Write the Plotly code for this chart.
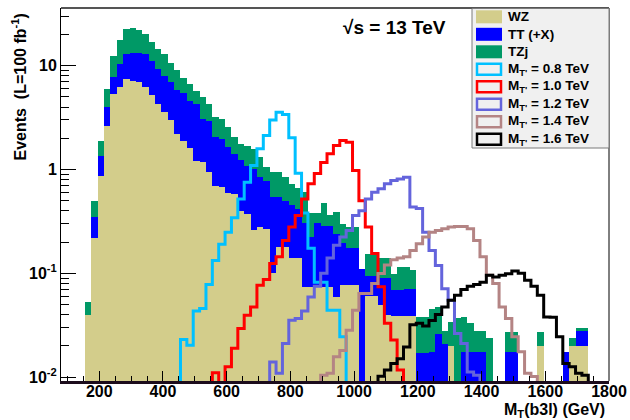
import plotly.graph_objects as go

# ---------------- data ----------------
bin_centers = [165, 185, 205, 225, 245, 265, 285, 305, 325, 345,
               365, 385, 405, 425, 445, 465, 485, 505, 525, 545,
               565, 585, 605, 625, 645, 665, 685, 705, 725, 745,
               765, 785, 805, 825, 845, 865, 885, 905, 925, 945,
               965, 985, 1005, 1025, 1045, 1065, 1085, 1105, 1125, 1145,
               1165, 1185, 1205, 1225, 1245, 1265, 1285, 1305, 1325, 1345,
               1365, 1385, 1405, 1425, 1445, 1465, 1485, 1505, 1525, 1545,
               1565, 1585, 1605, 1625, 1645, 1665, 1685, 1705, 1725, 1745]
bin_width = 20

wz = [0.040, 0.22, 0.86, 2.6, 5.3, 6.2, 7.4, 7.2, 6.9, 6.3,
      5.2, 4.3, 3.6, 3.0, 2.2, 1.9, 1.6, 1.22, 1.18, 0.94,
      0.70, 0.68, 0.59, 0.58, 0.40, 0.37, 0.26, 0.28, 0.27, 0.10,
      0.18, 0.18, 0.14, 0.14, 0.074, 0.074, 0.074, 0.074, 0.074, 0.059,
      0.077, 0.077, 0.077, 0, 0.06, 0.06, 0.05, 0.04, 0.039, 0.039,
      0.039, 0.039, 0, 0, 0, 0, 0, 0.02, 0, 0,
      0, 0, 0, 0, 0, 0, 0, 0, 0, 0,
      0, 0.02, 0, 0, 0, 0, 0.02, 0.02, 0.02, 0]

tt = [0, 0.13, 0.50, 1.37, 2.5, 4.2, 5.5, 6.2, 6.5, 6.6,
      6.0, 5.0, 4.4, 3.9, 3.6, 3.5, 3.0, 3.08, 1.89, 2.0,
      1.35, 1.29, 1.05, 0.84, 0.84, 0.72, 0.74, 0.56, 0.51, 0.44,
      0.36, 0.32, 0.31, 0.28, 0.23, 0.15, 0.23, 0.21, 0.21, 0.18,
      0.12, 0.10, 0.10, 0.11, 0.035, 0.035, 0.04, 0.05, 0.03, 0.03,
      0.032, 0.031, 0.017, 0.017, 0.0175, 0.026, 0.021, 0, 0, 0.0175,
      0.0175, 0.0175, 0.0175, 0, 0, 0, 0.0175, 0.0175, 0, 0,
      0, 0, 0, 0, 0, 0.0175, 0, 0.008, 0.008, 0]

tzj = [0.013, 0.15, 0.54, 2.0, 4.7, 7.4, 9.6, 9.7, 8.6, 7.3,
       5.9, 5.2, 4.9, 3.7, 3.2, 2.2, 2.07, 1.45, 1.89, 1.33,
       1.14, 1.10, 0.91, 0.63, 0.53, 0.61, 0.58, 0.47, 0.27, 0.40,
       0.40, 0.34, 0.28, 0.25, 0.30, 0.16, 0.08, 0.19, 0.08, 0.15,
       0.10, 0.10, 0.10, 0, 0.06, 0.06, 0.05, 0.05, 0.03, 0.045,
       0.044, 0.037, 0.021, 0.021, 0.028, 0.021, 0.007, 0.014, 0.037, 0.02,
       0.0155, 0.0105, 0.0105, 0.024, 0, 0, 0.0095, 0.0095, 0, 0,
       0, 0.007, 0, 0, 0, 0, 0.0037, 0.002, 0.002, 0]

sig_08 = [0, 0, 0, 0, 0, 0, 0, 0, 0, 0,
          0, 0, 0, 0, 0, 0.023, 0.0203, 0.0434, 0.0458, 0.078,
          0.133, 0.19, 0.249, 0.343, 0.52, 0.755, 1.09, 1.58, 2.12, 3.0,
          3.56, 3.38, 2.02, 0.92, 0.38, 0.174, 0.082, 0.082, 0.0441, 0.0441,
          0.0245, 0, 0, 0, 0, 0, 0, 0, 0, 0,
          0, 0, 0, 0, 0, 0, 0, 0, 0, 0,
          0, 0, 0, 0, 0, 0, 0, 0, 0, 0,
          0, 0, 0, 0, 0, 0, 0, 0, 0, 0]

sig_10 = [0, 0, 0, 0, 0, 0, 0, 0, 0, 0,
          0, 0, 0, 0, 0, 0, 0, 0, 0, 0,
          0.011, 0, 0.0126, 0.0189, 0.0294, 0.0394, 0.0474, 0.0767, 0.087, 0.124,
          0.144, 0.207, 0.279, 0.361, 0.52, 0.73, 0.916, 1.17, 1.42, 1.70,
          1.90, 1.83, 0.98, 0.50, 0.279, 0.155, 0.074, 0.033, 0.0227, 0.0117,
          0, 0, 0, 0, 0, 0, 0, 0, 0, 0,
          0, 0, 0, 0, 0, 0, 0, 0, 0, 0,
          0, 0, 0, 0, 0, 0, 0, 0, 0, 0]

sig_12 = [0, 0, 0, 0, 0, 0, 0, 0, 0, 0,
          0, 0, 0, 0, 0, 0, 0, 0, 0, 0,
          0, 0, 0, 0, 0, 0, 0, 0, 0, 0.014,
          0.0109, 0.0211, 0.0353, 0.0367, 0.0434, 0.0592, 0.075, 0.10, 0.14, 0.186,
          0.223, 0.259, 0.361, 0.40, 0.52, 0.605, 0.652, 0.728, 0.783, 0.81,
          0.843, 0.435, 0.42, 0.249, 0.166, 0.119, 0.071, 0.055, 0.0263, 0.0211,
          0.0112, 0.0104, 0, 0, 0, 0, 0, 0, 0, 0,
          0, 0, 0, 0, 0, 0, 0, 0, 0, 0]

sig_14 = [0, 0, 0, 0, 0, 0, 0, 0, 0, 0,
          0, 0, 0, 0, 0, 0, 0, 0, 0, 0,
          0, 0, 0, 0, 0, 0, 0, 0, 0, 0,
          0, 0, 0, 0, 0, 0, 0, 0.0104, 0.0109, 0.0157,
          0.018, 0.0283, 0.044, 0.0638, 0.0638, 0.0796, 0.0993, 0.12, 0.135, 0.14,
          0.144, 0.166, 0.193, 0.223, 0.249, 0.259, 0.269, 0.279, 0.283, 0.283,
          0.269, 0.207, 0.144, 0.0957, 0.0796, 0.0474, 0.0367, 0.0245, 0.0175, 0.0109,
          0.0101, 0, 0, 0, 0, 0, 0, 0, 0, 0]

sig_16 = [0, 0, 0, 0, 0, 0, 0, 0, 0, 0,
          0, 0, 0, 0, 0, 0, 0, 0, 0, 0,
          0, 0, 0, 0, 0, 0, 0, 0, 0, 0,
          0, 0, 0, 0, 0, 0, 0, 0, 0, 0,
          0, 0, 0, 0, 0, 0, 0.0102, 0.0117, 0.0135, 0.015,
          0.0195, 0.032, 0.033, 0.031, 0.035, 0.04, 0.0474, 0.055, 0.0615, 0.0696,
          0.075, 0.078, 0.082, 0.0957, 0.092, 0.0957, 0.099, 0.105, 0.1, 0.0857,
          0.075, 0.0615, 0.0378, 0.0377, 0.0245, 0.0135, 0.0126, 0.0109, 0.0104, 0]

bkg_names = ["WZ", "TT (+X)", "TZj"]
sig_names = ["M<sub>T'</sub> = 0.8 TeV", "M<sub>T'</sub> = 1.0 TeV", "M<sub>T'</sub> = 1.2 TeV",
             "M<sub>T'</sub> = 1.4 TeV", "M<sub>T'</sub> = 1.6 TeV"]
y_tick_vals = [0.01, 0.1, 1, 10]
y_tick_text = ["10<sup>-2</sup>", "10<sup>-1</sup>", "1", "10"]

# ---------------- styles ----------------
bkg_colors = ["#d3cd8b", "#0000ff", "#009966"]
sig_colors = ["#00c0ff", "#ff0000", "#6464dc", "#b48484", "#000000"]
FONT = "Liberation Sans, Arial, Helvetica, sans-serif"

W, H = 630, 420
L, R, T, B = 61, 609, 8, 381  # plot area in pixels


def xp(px):
    return (px - L) / (R - L)


def yp(py):
    return (B - py) / (B - T)


fig = go.Figure()

for name, vals, col in zip(bkg_names, [wz, tt, tzj], bkg_colors):
    fig.add_trace(go.Bar(x=bin_centers, y=vals, width=bin_width, name=name,
                         marker=dict(color=col, line=dict(width=0)),
                         showlegend=False, hoverinfo="skip"))

floor_val = 1e-4  # empty bins drawn below the visible range (drop to the axis)
edges = [c - bin_width / 2 for c in bin_centers] + [bin_centers[-1] + bin_width / 2]
for name, vals, col in zip(sig_names, [sig_08, sig_10, sig_12, sig_14, sig_16], sig_colors):
    ys = [v if v > 0 else floor_val for v in vals]
    ys = ys + [ys[-1]]
    fig.add_trace(go.Scatter(x=edges, y=ys, mode="lines", name=name,
                             line=dict(color=col, width=3, shape="hv"),
                             showlegend=False, hoverinfo="skip"))

fig.update_layout(
    width=W, height=H,
    margin=dict(l=L, r=W - R, t=T, b=H - B, pad=0),
    paper_bgcolor="white", plot_bgcolor="white",
    barmode="stack", bargap=0,
    showlegend=False,
    font=dict(family=FONT, size=16, color="black"),
)

fig.update_xaxes(
    range=[80, 1800], showgrid=False, zeroline=False,
    showline=True, linecolor="#1c0c1c", linewidth=3,
    tickmode="linear", tick0=200, dtick=200,
    ticks="inside", ticklen=10, tickwidth=1, tickcolor="black",
    minor=dict(ticks="inside", dtick=50, tick0=200, ticklen=5, tickwidth=1, tickcolor="black", showgrid=False),
    tickfont=dict(family=FONT, size=16, weight="bold"),
    ticklabelstandoff=-6,
    automargin=False,
)

fig.update_yaxes(
    type="log", range=[-2.038, 1.556], showgrid=False, zeroline=False,
    showline=True, linecolor="black", linewidth=1,
    tickmode="array", tickvals=y_tick_vals, ticktext=y_tick_text,
    ticks="inside", ticklen=15, tickwidth=1, tickcolor="black",
    minor=dict(ticks="inside", dtick="D1", ticklen=8, tickwidth=1, tickcolor="black", showgrid=False),
    tickfont=dict(family=FONT, size=16, weight="bold"),
    automargin=False,
)

# frame top and right
fig.add_shape(type="line", xref="paper", yref="paper", x0=0, x1=1, y0=1, y1=1,
              line=dict(color="#555555", width=2))
fig.add_shape(type="line", xref="paper", yref="paper", x0=1, x1=1, y0=0, y1=1,
              line=dict(color="black", width=1))

# legend (ROOT-style box)
fig.add_shape(type="rect", xref="paper", yref="paper",
              x0=xp(472), x1=xp(609), y0=yp(148), y1=yp(8.5),
              fillcolor="#f0f0f0", line=dict(color="#7a7a7a", width=1))
row0, drow = 16.8, 17.5
all_names = bkg_names + sig_names
for i, name in enumerate(all_names):
    cy = row0 + i * drow
    if i < 3:
        fig.add_shape(type="rect", xref="paper", yref="paper",
                      x0=xp(476), x1=xp(502), y0=yp(cy + 6.5), y1=yp(cy - 6.5),
                      fillcolor=bkg_colors[i], line=dict(width=0))
    else:
        fig.add_shape(type="rect", xref="paper", yref="paper",
                      x0=xp(477), x1=xp(501), y0=yp(cy + 5.5), y1=yp(cy - 5.5),
                      fillcolor="#f0f0f0", line=dict(color=sig_colors[i - 3], width=2.5))
    fig.add_annotation(xref="paper", yref="paper", x=xp(506), y=yp(cy),
                       xanchor="left", yanchor="middle", showarrow=False,
                       text=name, font=dict(family=FONT, size=13.5, weight="bold", color="black"))

# texts
fig.add_annotation(xref="paper", yref="paper", x=xp(394), y=yp(27),
                   xanchor="center", yanchor="middle", showarrow=False,
                   text="√s = 13 TeV", font=dict(family=FONT, size=19, weight="bold"))
fig.add_annotation(xref="paper", yref="paper", x=xp(607), y=yp(410),
                   xanchor="right", yanchor="middle", showarrow=False,
                   text="M<sub>T</sub>(b3l) (GeV)", font=dict(family=FONT, size=16, weight="bold"))
fig.add_annotation(xref="paper", yref="paper", x=xp(19), y=yp(12),
                   xanchor="center", yanchor="top", showarrow=False, textangle=-90,
                   text="Events  (L=100 fb<sup>-1</sup>)", font=dict(family=FONT, size=16, weight="bold"))

fig.write_html("out.html", config={"displayModeBar": False},
               post_script="document.body.style.margin='0px';")
